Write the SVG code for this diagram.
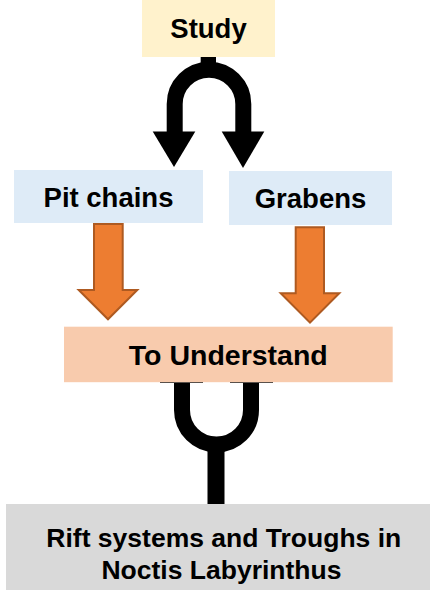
<svg xmlns="http://www.w3.org/2000/svg" width="432" height="590" viewBox="0 0 432 590">
<style>
text{font-family:"Liberation Sans",Arial,sans-serif;font-weight:bold;fill:#000;text-anchor:middle}
.bk{fill:none;stroke:#000;stroke-width:16}
.or{fill:#ED7D31;stroke:#AE5A21;stroke-width:2}
</style>
<rect width="432" height="590" fill="#fff"/>
<g id="connectors">
<rect x="200.7" y="56" width="15.3" height="7" fill="#000"/>
<path class="bk" d="M174.7,132 V104 A34.3,34.3 0 0 1 243.3,104 V132"/>
<polygon points="152.7,131.5 195.3,131.5 174,167" fill="#000"/>
<polygon points="221.7,131.5 264.3,131.5 243,168" fill="#000"/>
<polygon class="or" points="94,224 122.7,224 122.7,290 137.3,290 108,319.3 78.7,290 94,290"/>
<polygon class="or" points="295.7,227.3 324,227.3 324,293.3 339.3,293.3 310,322.7 280.7,293.3 295.7,293.3"/>
<path class="bk" d="M182,383 V410 A34.5,34.5 0 0 0 251,410 V383"/>
<rect x="207.5" y="440" width="17" height="65" fill="#000"/>
<line x1="160" y1="382.5" x2="203" y2="382.5" stroke="#333" stroke-width="1.2"/>
<line x1="230" y1="382.5" x2="273" y2="382.5" stroke="#333" stroke-width="1.2"/>
</g>
<g id="study">
<rect x="142" y="0" width="133" height="57" fill="#FFF2CC"/>
<text x="208.5" y="37.5" font-size="27.5">Study</text>
</g>
<g id="pit-chains">
<rect x="14" y="170" width="189" height="53" fill="#DEEBF7"/>
<text x="108.5" y="206.7" font-size="27.5">Pit chains</text>
</g>
<g id="grabens">
<rect x="229" y="171" width="163" height="54" fill="#DEEBF7"/>
<text x="310.5" y="208.3" font-size="27.5">Grabens</text>
</g>
<g id="to-understand">
<rect x="64" y="326.7" width="328.7" height="55.5" fill="#F8CBAD"/>
<text x="228.3" y="365" font-size="28.5">To Understand</text>
</g>
<g id="rift-systems">
<rect x="6" y="504" width="424" height="86" fill="#D9D9D9"/>
<text x="223.8" y="547" font-size="26.5">Rift systems and Troughs in</text>
<text x="221.5" y="579.3" font-size="26.5">Noctis Labyrinthus</text>
</g>
</svg>
